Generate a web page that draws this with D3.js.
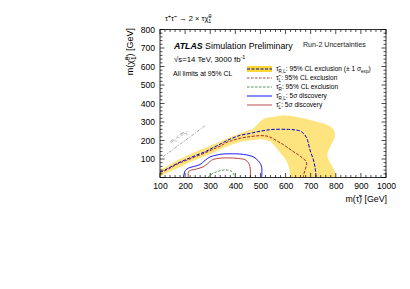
<!DOCTYPE html>
<html><head><meta charset="utf-8">
<script src="https://cdn.jsdelivr.net/npm/d3@7"></script>
<style>
html,body{margin:0;padding:0;background:#fff;}
text{font-family:"Liberation Sans",Arial,Helvetica,sans-serif;}
</style></head>
<body><svg id="c" width="410" height="289"></svg>
<script>
// ---- data (m(stau), m(chi)) in GeV ----
const xTicks = [100,200,300,400,500,600,700,800,900,1000];
const yTicks = [100,200,300,400,500,600,700,800];
const bandUpper = [[100,46],[120,54],[135,68],[170,95],[213,122],[250,145],[292,167],[340,195],[386,221],[430,245],[470,262],[490,290],[505,311],[520,322],[551,329],[591,336],[618,334],[650,326],[684,316],[720,303],[750,293],[775,280],[790,262],[797,240],[795,215],[786,187],[777,165],[768,138],[766,113],[775,85],[786,59],[797,30],[805,0]];
const bandLower = [[618,0],[616,35],[611,68],[601,95],[591,113],[578,135],[565,158],[552,178],[540,194],[520,204],[498,207],[470,203],[425,194],[390,180],[359,163],[330,145],[292,122],[250,100],[213,80],[180,57],[146,37],[120,20],[105,8],[100,4]];
const expRL = [[100,31],[110,35],[120,41],[140,55],[170,77],[200,95],[240,118],[279,139],[310,160],[346,185],[380,208],[420,228],[458,238],[490,248],[520,255],[550,260],[611,260],[640,257],[660,250],[677,230],[688,200],[697,150],[711,95],[718,50],[722,0]];
const expL = [[100,28],[120,37],[140,51],[170,73],[200,90],[240,112],[279,133],[320,158],[346,174],[362,188],[385,199],[420,212],[458,221],[498,226],[525,224],[545,214],[565,198],[591,178],[612,158],[631,140],[652,122],[668,105],[680,90],[684,75],[680,50],[673,20],[671,0]];
const expR = [[292,0],[296,9],[310,21],[332,34],[352,40],[370,40],[386,33],[392,21],[395,10],[396,0]];
const discRL = [[193,0],[196,20],[201,38],[215,52],[233,59],[259,70],[279,92],[299,111],[328,122],[352,127],[400,128],[432,125],[458,118],[474,110],[490,92],[500,75],[505,55],[505,0]];
const discL = [[213,0],[213,30],[220,38],[246,46],[272,58],[290,75],[306,94],[325,102],[366,106],[412,103],[440,95],[452,80],[458,60],[460,30],[460,0]];
const diag = [[113,113],[278,278]];
const legendLabels = [
  [["τ̃",""],["R,L","sub"],[": 95% CL exclusion (± 1 σ",""],["exp","sub"],[")",""]],
  [["τ̃",""],["L","sub"],[": 95% CL exclusion",""]],
  [["τ̃",""],["R","sub"],[": 95% CL exclusion",""]],
  [["τ̃",""],["R,L","sub"],[": 5σ discovery",""]],
  [["τ̃",""],["L","sub"],[": 5σ discovery",""]]
];

const svg = d3.select("#c");
const x = d3.scaleLinear().domain([100,1000]).range([160,386]);
const y = d3.scaleLinear().domain([0,800]).range([177.5,29.5]);

function richText(g, xx, yy, segs, fs, opts={}){
  const t = g.append("text").attr("x",xx).attr("y",yy).attr("font-size",fs).attr("fill",opts.fill||"#000");
  if(opts.anchor) t.attr("text-anchor",opts.anchor);
  if(opts.transform) t.attr("transform",opts.transform);
  let shift = 0;
  segs.forEach(([txt,s,dxv])=>{
    const ts = t.append("tspan").text(txt);
    let target = 0;
    if(s==="sub") target = fs*0.28;
    else if(s==="sup") target = -fs*0.38;
    ts.attr("dy", target-shift);
    shift = target;
    if(s) ts.attr("font-size",fs*0.7);
    if(dxv) ts.attr("dx",dxv);
  });
  return t;
}

svg.append("defs").append("clipPath").attr("id","clip").append("rect")
  .attr("x",x(100)).attr("y",y(800)).attr("width",x(1000)-x(100)).attr("height",y(0)-y(800));
const plot = svg.append("g").attr("clip-path","url(#clip)");

// band
plot.append("path").datum(bandUpper.concat(bandLower))
  .attr("d", d3.line().x(d=>x(d[0])).y(d=>y(d[1])).curve(d3.curveLinearClosed))
  .attr("fill","#fee47f").attr("stroke","none");

const line = d3.line().x(d=>x(d[0])).y(d=>y(d[1])).curve(d3.curveCatmullRom.alpha(0.5));

plot.append("path").attr("d",d3.line().x(d=>x(d[0])).y(d=>y(d[1]))(diag))
  .attr("fill","none").attr("stroke","#777").attr("stroke-width",0.7).attr("stroke-dasharray","3,1.5,1,1.5");

const curves = [
  {d:discRL, c:"#1010ee", w:0.95, dash:null},
  {d:discL, c:"#b23b3b", w:0.95, dash:null},
  {d:expR, c:"#2a7a2a", w:0.8, dash:"2.5,1.5"},
  {d:expL, c:"#a01818", w:0.95, dash:"3,1.5"},
  {d:expRL, c:"#0000cc", w:1.0, dash:"3.5,1.5"}
];
curves.forEach(cv=>{
  const p = plot.append("path").attr("d",line(cv.d)).attr("fill","none").attr("stroke",cv.c).attr("stroke-width",cv.w);
  if(cv.dash) p.attr("stroke-dasharray",cv.dash);
});

// diagonal label
const ang = -Math.atan2(y(0)-y(100), x(200)-x(100))*180/Math.PI;
richText(svg, 0, 0, [["m",""],["τ̃","sub"],[" < m",""],["χ̃","sub"]], 5.5,
  {fill:"#888", anchor:"middle", transform:`translate(${x(176)},${y(213)}) rotate(${ang})`});

// frame and ticks
const fr = svg.append("g");
fr.append("rect").attr("x",x(100)).attr("y",y(800)).attr("width",x(1000)-x(100)).attr("height",y(0)-y(800))
  .attr("fill","none").attr("stroke","#000").attr("stroke-width",0.8);
const xAxB = d3.axisBottom(x).tickValues(xTicks).tickSize(0).tickPadding(0).tickFormat(d3.format("d"));
const xb = svg.append("g").attr("transform",`translate(0,${y(0)})`).call(xAxB);
xb.select(".domain").remove();
xb.selectAll("text").attr("font-size",8.6).attr("dy","0").attr("y",11).attr("font-family","Liberation Sans, Arial, sans-serif");
const yAxL = d3.axisLeft(y).tickValues(yTicks).tickSize(0).tickPadding(0).tickFormat(d3.format("d"));
const yl = svg.append("g").attr("transform",`translate(${x(100)},0)`).call(yAxL);
yl.select(".domain").remove();
yl.selectAll("text").attr("font-size",8.6).attr("x",-5).attr("dy","0.33em").attr("font-family","Liberation Sans, Arial, sans-serif");

for(let v=100; v<=1000; v+=20){
  const L = (v%100===0)?4.5:2.5;
  fr.append("line").attr("x1",x(v)).attr("x2",x(v)).attr("y1",y(0)).attr("y2",y(0)-L).attr("stroke","#000").attr("stroke-width",0.7);
  fr.append("line").attr("x1",x(v)).attr("x2",x(v)).attr("y1",y(800)).attr("y2",y(800)+L).attr("stroke","#000").attr("stroke-width",0.7);
}
for(let v=0; v<=800; v+=20){
  const L = (v%100===0)?4.5:2.5;
  fr.append("line").attr("x1",x(100)).attr("x2",x(100)+L).attr("y1",y(v)).attr("y2",y(v)).attr("stroke","#000").attr("stroke-width",0.7);
  fr.append("line").attr("x1",x(1000)).attr("x2",x(1000)-L).attr("y1",y(v)).attr("y2",y(v)).attr("stroke","#000").attr("stroke-width",0.7);
}

// axis titles
richText(svg, 387, 202, [["m(τ̃) [GeV]",""]], 8.8, {anchor:"end"});
richText(svg, 0, 0, [["m(χ̃",""],["0","sup"],["1","sub","-3.5"],[") [GeV]",""]], 9,
  {anchor:"end", transform:"translate(133,28) rotate(-90)"});

// title
richText(svg, 165, 21, [["τ̃",""],["+","sup"],["τ̃",""],["−","sup"],[" → 2 × τχ̃",""],["0","sup"],["1","sub","-3"]], 7.5);

// labels
const at = svg.append("text").attr("x",174).attr("y",48.5).attr("font-size",8.8);
at.append("tspan").text("ATLAS").attr("font-weight","bold").attr("font-style","italic");
at.append("tspan").text(" Simulation Preliminary");
svg.append("text").attr("x",303).attr("y",47).attr("font-size",7.1).attr("fill","#222").text("Run-2 Uncertainties");
richText(svg, 174, 62, [["√s=14 TeV, 3000 fb",""],["-1","sup"]], 7.8);
svg.append("text").attr("x",173).attr("y",76).attr("font-size",6.9).text("All limits at 95% CL");

// legend
const legStyles = [
  {c:"#0000cc", dash:"3,1.5", w:1.0, box:true},
  {c:"#a01818", dash:"2.5,1.5", w:0.8},
  {c:"#2a7a2a", dash:"2.5,1.5", w:0.8},
  {c:"#1010ee", dash:null, w:1.0},
  {c:"#b23b3b", dash:null, w:0.9}
];
const lg = svg.append("g");
legStyles.forEach((s,i)=>{
  const yy = 69 + i*9;
  if(s.box) lg.append("rect").attr("x",247).attr("y",yy-3).attr("width",25).attr("height",6).attr("fill","#fdd835");
  const l = lg.append("line").attr("x1",247).attr("x2",272).attr("y1",yy).attr("y2",yy).attr("stroke",s.c).attr("stroke-width",s.w);
  if(s.dash) l.attr("stroke-dasharray",s.dash);
  richText(lg, 276, yy+2.3, legendLabels[i], 6.6);
});
</script></body></html>
